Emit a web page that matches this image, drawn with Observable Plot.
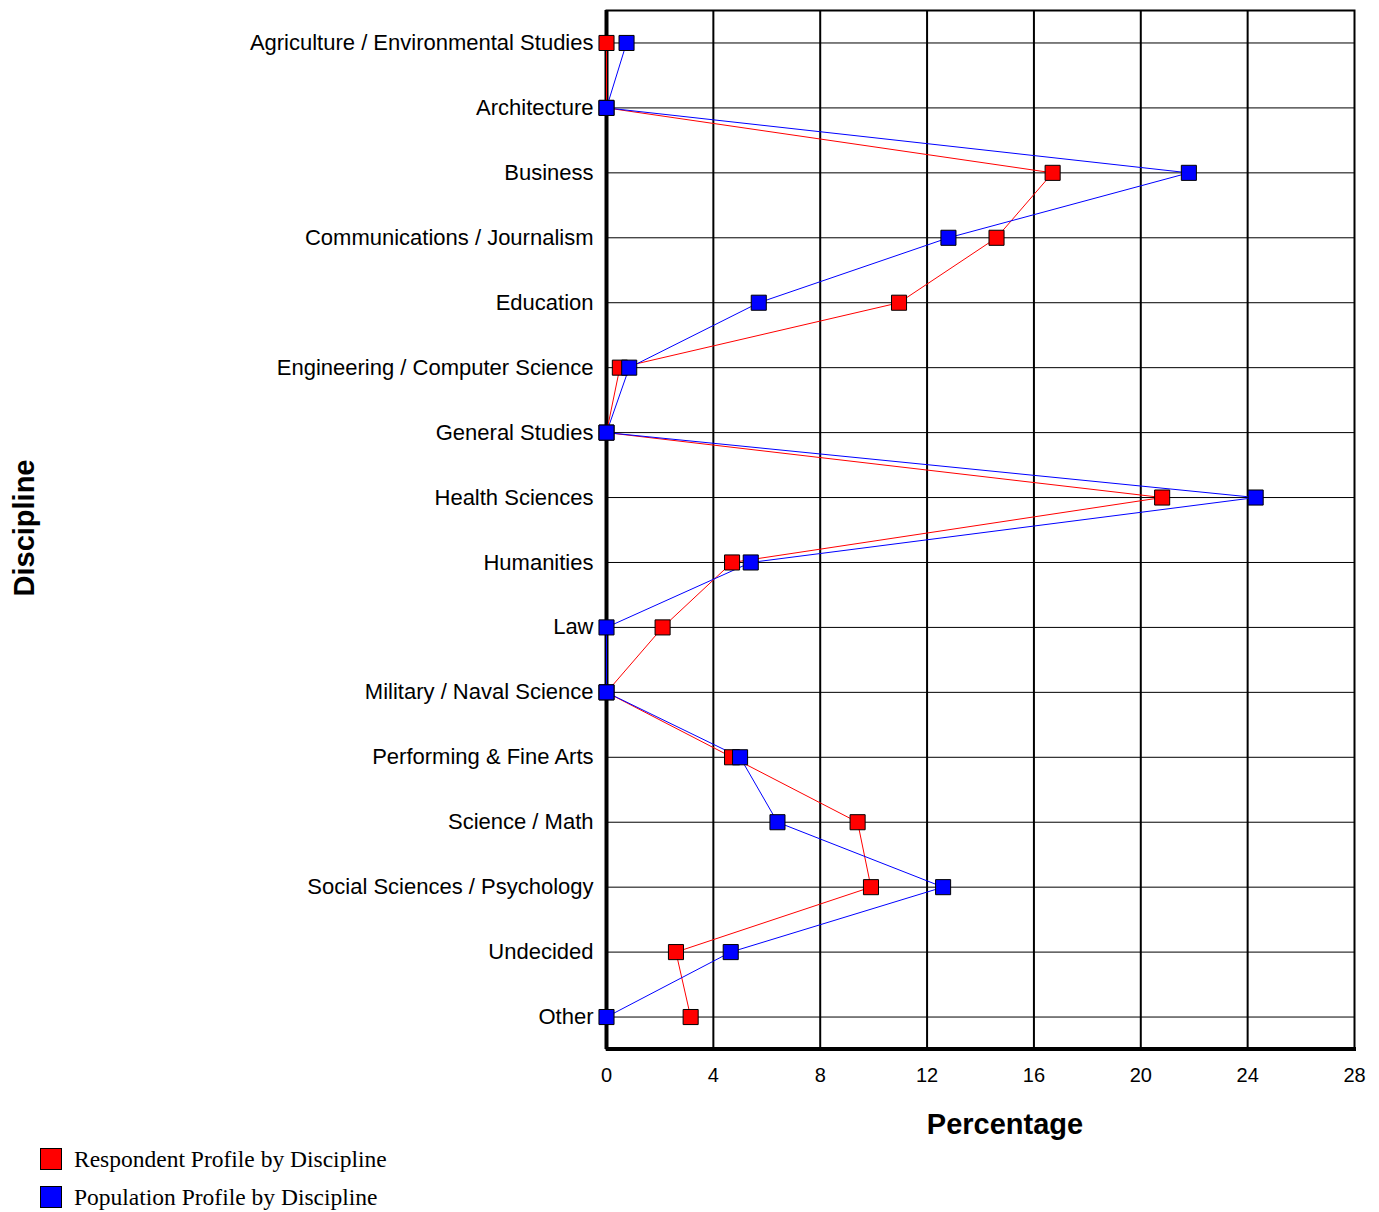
<!DOCTYPE html>
<html><head><meta charset="utf-8">
<script src="https://cdn.jsdelivr.net/npm/d3@7"></script>
<script src="https://cdn.jsdelivr.net/npm/@observablehq/plot@0.6"></script>
<style>
body{margin:0;background:#fff}
#legend{font-family:"Liberation Serif",serif;font-size:23.5px;margin-left:40px;margin-top:0px}
#legend div{display:flex;align-items:center;height:38px}
#legend span.sw{display:inline-block;width:20px;height:20px;margin-right:12px;border:1px solid #000}
</style></head>
<body><div id="chart"></div><div id="legend"></div>
<script>
const disciplines = ['Agriculture / Environmental Studies','Architecture','Business','Communications / Journalism','Education','Engineering / Computer Science','General Studies','Health Sciences','Humanities','Law','Military / Naval Science','Performing & Fine Arts','Science / Math','Social Sciences / Psychology','Undecided','Other']
const respondent = [0, 0, 16.7, 14.6, 10.95, 0.5, 0, 20.8, 4.7, 2.1, 0, 4.7, 9.4, 9.9, 2.6, 3.15]
const population = [0.75, 0, 21.8, 12.8, 5.7, 0.85, 0, 24.3, 5.4, 0, 0, 5.0, 6.4, 12.6, 4.65, 0]
const xTicks = [0, 4, 8, 12, 16, 20, 24, 28]

const series = [
  {name: 'Respondent Profile by Discipline', color: '#ff0000', values: respondent},
  {name: 'Population Profile by Discipline', color: '#0000ff', values: population}
]
const rows = series.flatMap(s => s.values.map((v, i) => ({series: s.name, color: s.color, i, v})))
const idx = disciplines.map((d, i) => i)

const font = 'Liberation Sans, Arial, sans-serif'
const chart = Plot.plot({
  width: 1379, height: 1140,
  marginLeft: 606, marginRight: 25, marginTop: 10, marginBottom: 91,
  style: {fontFamily: font, fontSize: '20px', color: '#000'},
  x: {domain: [0, 28], ticks: xTicks, tickSize: 0, label: null},
  y: {domain: [disciplines.length - 0.5, -0.5], label: null},
  marks: [
    Plot.ruleY(idx, {stroke: '#000', strokeWidth: 1}),
    Plot.ruleX(xTicks.slice(1, -1), {stroke: '#000', strokeWidth: 2}),
    Plot.frame({stroke: '#000', strokeWidth: 2}),
    Plot.ruleX([0], {stroke: '#000', strokeWidth: 4}),
    Plot.axisX({ticks: xTicks, tickSize: 0, tickPadding: 18, fontSize: 20}),
    Plot.axisY({ticks: idx, tickFormat: i => disciplines[i], tickSize: 0, tickPadding: 13, fontSize: 22}),
    Plot.line(rows, {x: 'v', y: 'i', z: 'series', stroke: 'color', strokeWidth: 1}),
    Plot.dot(rows, {x: 'v', y: 'i', symbol: 'square', r: 8.5, fill: 'color', stroke: '#000', strokeWidth: 1})
  ]
})
// thick bottom axis line
d3.select(chart).append('line').attr('x1', 606).attr('x2', 1356).attr('y1', 1049).attr('y2', 1049).attr('stroke', '#000').attr('stroke-width', 4)
d3.select(chart).append('text').attr('x', 1005).attr('y', 1134).attr('text-anchor', 'middle')
  .attr('font-family', font).attr('font-size', 29).attr('font-weight', 'bold').text('Percentage')
d3.select(chart).append('text').attr('transform', 'translate(34,528) rotate(-90)').attr('text-anchor', 'middle')
  .attr('font-family', font).attr('font-size', 29).attr('font-weight', 'bold').text('Discipline')
d3.select('#chart').append(() => chart)

const lg = d3.select('#legend')
series.forEach(s => {
  const row = lg.append('div')
  row.append('span').attr('class', 'sw').style('background', s.color)
  row.append('span').text(s.name)
})
</script></body></html>
